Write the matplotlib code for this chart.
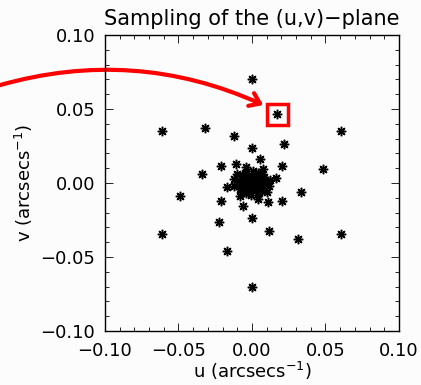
import matplotlib

matplotlib.use("Agg")
import matplotlib.pyplot as plt
from matplotlib.patches import FancyArrowPatch, Rectangle
from matplotlib.path import Path
from matplotlib.ticker import MultipleLocator

# outer (u, v) samples, arcsec^-1
u_outer = [0.000, 0.0168, -0.0614, -0.0318, -0.0120, 0.0608, 0.000, 0.0218,
           0.0056, -0.0211, -0.0111, -0.0043, 0.0075, 0.0206, -0.0342, 0.0483,
           0.0166, -0.0120, -0.0170, 0.0116, -0.0488, 0.0336, -0.0211, -0.0080,
           0.0039, 0.0107, 0.0206, -0.0059, 0.000, -0.0222, 0.0116, -0.0614,
           0.0315, 0.0608, -0.0172, 0.000]
v_outer = [0.0700, 0.0464, 0.0350, 0.0374, 0.0320, 0.0350, 0.0239, 0.0261,
           0.0160, 0.0117, 0.0128, 0.0108, 0.0093, 0.0117, 0.0058, 0.0093,
           0.0031, 0.0025, -0.0029, -0.0020, -0.0086, -0.0061, -0.0120, -0.0089,
           -0.0110, -0.0130, -0.0120, -0.0155, -0.0239, -0.0264, -0.0322, -0.0347,
           -0.0376, -0.0347, -0.0459, -0.0700]

# short baselines in the central clump
u_core = [0.001, -0.001, 0.002, -0.002, 0.003, -0.003, 0.004, -0.004, 0.000, 0.000,
          0.005, -0.005, 0.006, -0.006, 0.002, -0.002, 0.007, -0.007, 0.003, -0.003,
          0.008, -0.008, 0.005, -0.005, 0.001, -0.001, 0.009, -0.009, 0.004, -0.004,
          0.012, -0.012, 0.006, -0.006, 0.007, -0.007, 0.000, 0.000, 0.0025, -0.0025,
          0.010, -0.010]
v_core = [0.001, -0.001, -0.001, 0.001, 0.002, -0.002, 0.000, 0.000, 0.004, -0.004,
          0.003, -0.003, -0.002, 0.002, 0.006, -0.006, 0.001, -0.001, -0.005, 0.005,
          0.004, -0.004, -0.007, 0.007, 0.008, -0.008, -0.001, 0.001, 0.007, -0.007,
          0.002, -0.002, 0.006, -0.006, -0.005, 0.005, 0.0015, -0.0015, -0.003, 0.003,
          -0.006, 0.006]

highlight = (0.0168, 0.0464)

fig = plt.figure(figsize=(4.21, 3.85), dpi=100, facecolor="#fcfcfc")
ax = fig.add_axes([0.2494, 0.1403, 0.6983, 0.7688], facecolor="#fcfcfc")

star = dict(marker=(8, 2, 0), markersize=6.8, markeredgewidth=1.1,
            color="black", linestyle="none")
ax.plot(u_outer, v_outer, **star)
ax.plot(u_core, v_core, **star)

ax.set_xlim(-0.10, 0.10)
ax.set_ylim(-0.10, 0.10)
ax.xaxis.set_major_locator(MultipleLocator(0.05))
ax.yaxis.set_major_locator(MultipleLocator(0.05))
ax.xaxis.set_minor_locator(MultipleLocator(0.01))
ax.yaxis.set_minor_locator(MultipleLocator(0.01))
ax.xaxis.set_major_formatter(lambda x, pos: f"{x:.2f}".replace("-", "\u2212"))
ax.yaxis.set_major_formatter(lambda x, pos: f"{x:.2f}".replace("-", "\u2212"))
ax.tick_params(which="both", direction="in", top=True, right=True,
               labelsize=13, width=0.6, colors="black")
ax.tick_params(axis="x", which="major", length=6, pad=8)
ax.tick_params(axis="y", which="major", length=6, pad=7)
ax.tick_params(which="minor", length=3)
for sp in ax.spines.values():
    sp.set_linewidth(1.0)

ax.set_xlabel("u (arcsecs$^{-1}$)", fontsize=13, labelpad=0)
ax.set_ylabel("v (arcsecs$^{-1}$)", fontsize=13, labelpad=4)
ax.set_title("Sampling of the (u,v)\u2212plane", fontsize=15, pad=7)

# red arrow coming in from outside the frame, pointing at the boxed sample
arc = Path([(-0.172, 0.066), (-0.080, 0.092), (0.0077, 0.0527)],
           [Path.MOVETO, Path.CURVE3, Path.CURVE3])
arrow = FancyArrowPatch(path=arc, arrowstyle="->,head_length=7,head_width=5",
                        color="red", linewidth=3, clip_on=False)
ax.add_patch(arrow)
ax.add_patch(Rectangle((highlight[0] - 0.0068, highlight[1] - 0.0072), 0.0146, 0.0142,
                       fill=False, edgecolor="red", linewidth=2.5, clip_on=False))

fig.savefig("out.png", dpi=100, facecolor=fig.get_facecolor())
